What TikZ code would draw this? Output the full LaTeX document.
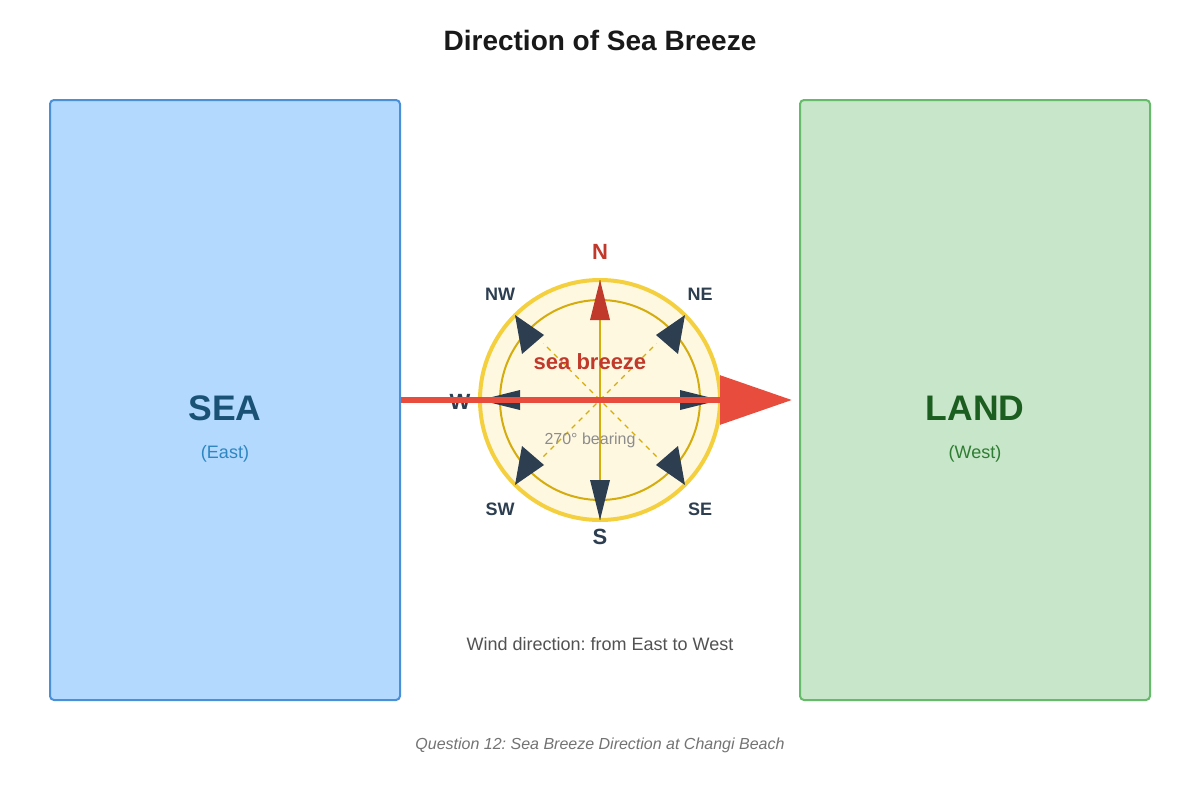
\documentclass[tikz,border=0pt]{standalone}
\usepackage{fontspec}
\setmainfont{Liberation Sans}
\usetikzlibrary{positioning, calc, arrows.meta}
\definecolor{seafill}{HTML}{B3D9FF}
\definecolor{seadraw}{HTML}{4A90D9}
\definecolor{seatext}{HTML}{1A5276}
\definecolor{seasub}{HTML}{2E86C1}
\definecolor{landfill}{HTML}{C8E6C9}
\definecolor{landdraw}{HTML}{66BB6A}
\definecolor{landtext}{HTML}{1B5E20}
\definecolor{landsub}{HTML}{2E7D32}
\definecolor{ringfill}{HTML}{FFF8E1}
\definecolor{ringdraw}{HTML}{F4D03F}
\definecolor{gold}{HTML}{D4AC0D}
\definecolor{navy}{HTML}{2C3E50}
\definecolor{breeze}{HTML}{C0392B}
\definecolor{wind}{HTML}{E74C3C}
\newcommand{\fs}[1]{\fontsize{#1}{#1}\selectfont}
\frenchspacing
\tikzset{
  zone/.style={rounded corners=4pt, line width=2pt, minimum width=350pt, minimum height=600pt},
  big/.style={font=\fs{35.5}\bfseries},
  sub/.style={font=\fs{18}},
  point/.style={font=\fs{22}\bfseries, text=navy},
  halfpoint/.style={font=\fs{18}\bfseries, text=navy}
}

\begin{document}
\begin{tikzpicture}[x=1pt, y=-1pt]
  \useasboundingbox[fill=white] (0,0) rectangle (1200,800);

  \node[font=\fs{28}\bfseries, text=black!90] (title) at (600,40) {Direction of Sea Breeze};

  % the two zones
  \node[zone, fill=seafill, draw=seadraw] (sea) at (225,400) {};
  \node[zone, fill=landfill, draw=landdraw] (land) at (975,400) {};
  \node[big, text=seatext] (sealab) at (225,408) {SEA};
  \node[sub, text=seasub] (seasublab) at (225,454) {(East)};
  \node[big, text=landtext] (landlab) at (975,408) {LAND};
  \node[sub, text=landsub] (landsublab) at (975,454) {(West)};

  % compass
  \coordinate (c) at (600,400);
  \draw[fill=ringfill, draw=ringdraw, line width=4pt] (c) circle (120);
  \draw[gold, line width=2pt] (c) circle (100);
  \draw[gold, line width=2pt] ($(c)+(0,-120)$) -- ($(c)+(0,120)$);
  \draw[gold, line width=2pt] ($(c)+(-120,0)$) -- ($(c)+(120,0)$);
  \foreach \a in {45,135}
    \draw[gold, line width=1.2pt, dash pattern=on 5pt off 5pt] ($(c)+(\a:80)$) -- ($(c)+(\a+180:80)$);
  % main points
  \foreach \a/\col in {0/navy,90/navy,180/navy,270/breeze}
    \fill[\col] ($(c)+(\a:120)$) -- ($(c)+(\a:80)+(\a+90:10)$) -- ($(c)+(\a:80)+(\a-90:10)$) -- cycle;
  % half points
  \foreach \sx/\sy in {1/1,1/-1,-1/1,-1/-1}
    \fill[navy] ($(c)+(85*\sx,85*\sy)$) -- ($(c)+(56*\sx,65*\sy)$) -- ($(c)+(78*\sx,46*\sy)$) -- cycle;

  \node[font=\fs{22}\bfseries, text=breeze] (n) at (600,252) {N};
  \node[point] (s) at (600,537) {S};
  \node[point] (w) at (460,402) {W};
  \node[halfpoint] (nw) at (500,294) {NW};
  \node[halfpoint] (ne) at (700,294) {NE};
  \node[halfpoint] (sw) at (500,509) {SW};
  \node[halfpoint] (se) at (700,509) {SE};

  % wind arrow
  \coordinate (tip) at (792,400);
  \draw[wind, line width=6pt, -{Triangle[length=72pt, width=48pt]}] (sea.east) -- (tip);

  \node[font=\fs{22}\bfseries, text=breeze] (label) at (590,362) {sea breeze};
  \node[font=\fs{16}, text=black!45] (bearing) at (590,440) {270° bearing};

  \node[font=\fs{18}, text=black!68] (caption) at (600,644) {Wind direction: from East to West};
  \node[font=\fs{16}\itshape, text=black!55] (question) at (600,745) {Question 12: Sea Breeze Direction at Changi Beach};
\end{tikzpicture}
\end{document}
